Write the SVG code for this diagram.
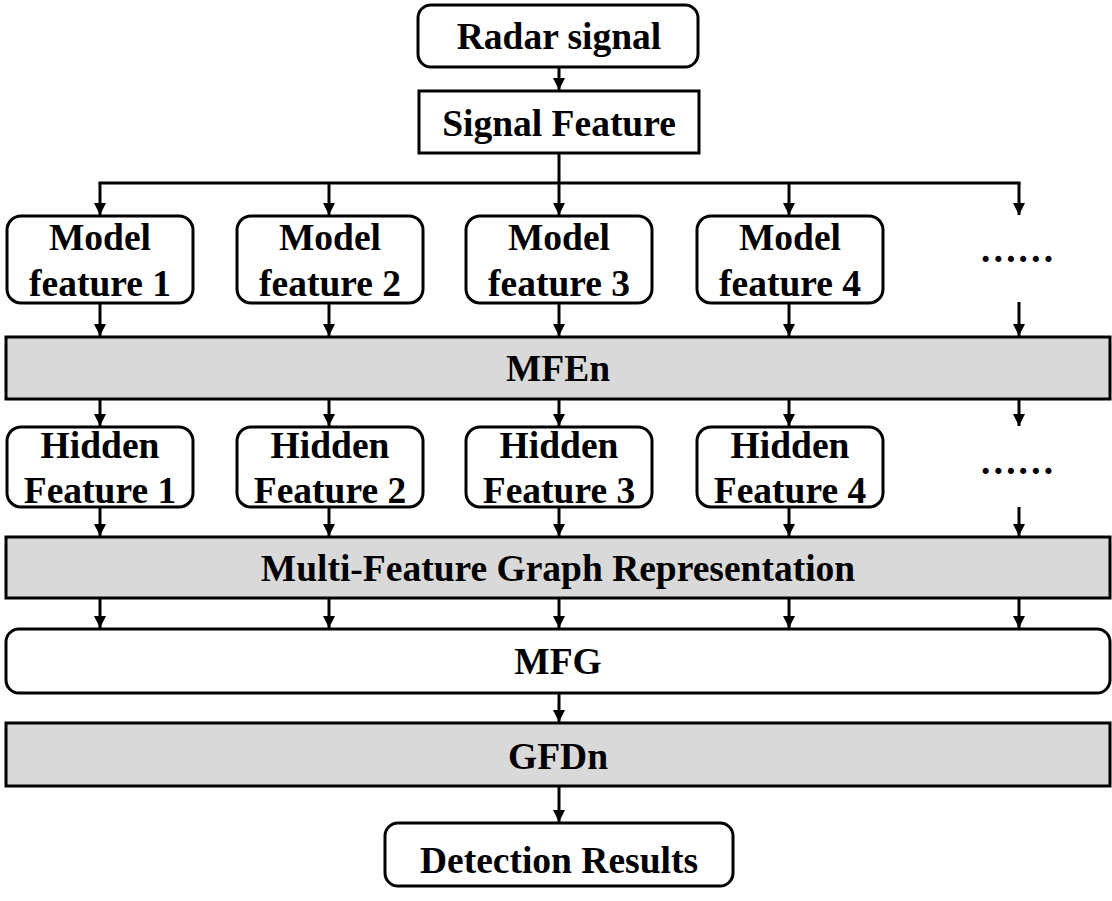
<svg xmlns="http://www.w3.org/2000/svg" width="1112" height="901" viewBox="0 0 1112 901">
<defs>
<marker id="ah" markerUnits="userSpaceOnUse" markerWidth="13" markerHeight="12" refX="12" refY="6" orient="auto">
<path d="M0,0 L12,6 L0,12 z" fill="#000"/>
</marker>
<style>
.box{fill:#fff;stroke:#000;stroke-width:3}
.gray{fill:#d9d9d9;stroke:#000;stroke-width:3}
.t{font-family:"Liberation Serif","Times New Roman",serif;font-weight:bold;font-size:37.5px;text-anchor:middle;fill:#000}
.c{stroke:#000;stroke-width:3;fill:none}
.a{stroke:#000;stroke-width:3;fill:none;marker-end:url(#ah)}
</style>
</defs>
<g id="connectors">
<line class="a" x1="559" y1="67" x2="559" y2="90"/>
<line class="c" x1="559" y1="153" x2="559" y2="183"/>
<line class="c" x1="98.5" y1="183" x2="1020.5" y2="183"/>
<line class="a" x1="100" y1="183" x2="100" y2="215"/>
<line class="a" x1="329" y1="183" x2="329" y2="215"/>
<line class="a" x1="559" y1="183" x2="559" y2="215"/>
<line class="a" x1="789" y1="183" x2="789" y2="215"/>
<line class="a" x1="1019" y1="183" x2="1019" y2="215"/>
<line class="a" x1="100" y1="303" x2="100" y2="336"/>
<line class="a" x1="329" y1="303" x2="329" y2="336"/>
<line class="a" x1="559" y1="303" x2="559" y2="336"/>
<line class="a" x1="789" y1="303" x2="789" y2="336"/>
<line class="a" x1="1019" y1="302" x2="1019" y2="336"/>
<line class="a" x1="100" y1="399" x2="100" y2="426"/>
<line class="a" x1="329" y1="399" x2="329" y2="426"/>
<line class="a" x1="559" y1="399" x2="559" y2="426"/>
<line class="a" x1="789" y1="399" x2="789" y2="426"/>
<line class="a" x1="1019" y1="399" x2="1019" y2="426"/>
<line class="a" x1="100" y1="507" x2="100" y2="536"/>
<line class="a" x1="329" y1="507" x2="329" y2="536"/>
<line class="a" x1="559" y1="507" x2="559" y2="536"/>
<line class="a" x1="789" y1="507" x2="789" y2="536"/>
<line class="a" x1="1019" y1="507" x2="1019" y2="536"/>
<line class="a" x1="100" y1="598" x2="100" y2="628"/>
<line class="a" x1="329" y1="598" x2="329" y2="628"/>
<line class="a" x1="559" y1="598" x2="559" y2="628"/>
<line class="a" x1="789" y1="598" x2="789" y2="628"/>
<line class="a" x1="1019" y1="598" x2="1019" y2="628"/>
<line class="a" x1="559" y1="693" x2="559" y2="722"/>
<line class="a" x1="559" y1="786" x2="559" y2="822"/>
</g>
<g id="radar">
<rect class="box" x="418" y="5" width="280" height="62" rx="13"/>
<text class="t" x="559" y="49">Radar signal</text>
</g>
<g id="signal-feature">
<rect class="box" x="419" y="91" width="280" height="62"/>
<text class="t" x="559" y="136">Signal Feature</text>
</g>
<g id="model1">
<rect class="box" x="7" y="216" width="186" height="87" rx="14"/>
<text class="t" x="100" y="250">Model</text>
<text class="t" x="100" y="296">feature 1</text>
</g>
<g id="model2">
<rect class="box" x="237" y="216" width="186" height="87" rx="14"/>
<text class="t" x="330" y="250">Model</text>
<text class="t" x="330" y="296">feature 2</text>
</g>
<g id="model3">
<rect class="box" x="466" y="216" width="186" height="87" rx="14"/>
<text class="t" x="559" y="250">Model</text>
<text class="t" x="559" y="296">feature 3</text>
</g>
<g id="model4">
<rect class="box" x="697" y="216" width="186" height="87" rx="14"/>
<text class="t" x="790" y="250">Model</text>
<text class="t" x="790" y="296">feature 4</text>
</g>
<g id="dots1">
<text class="t" x="1017" y="262">……</text>
</g>
<g id="mfen">
<rect class="gray" x="6" y="337" width="1104" height="62"/>
<text class="t" x="558" y="381">MFEn</text>
</g>
<g id="hidden1">
<rect class="box" x="7" y="427" width="186" height="80" rx="14"/>
<text class="t" x="100" y="458">Hidden</text>
<text class="t" x="100" y="503">Feature 1</text>
</g>
<g id="hidden2">
<rect class="box" x="237" y="427" width="186" height="80" rx="14"/>
<text class="t" x="330" y="458">Hidden</text>
<text class="t" x="330" y="503">Feature 2</text>
</g>
<g id="hidden3">
<rect class="box" x="466" y="427" width="186" height="80" rx="14"/>
<text class="t" x="559" y="458">Hidden</text>
<text class="t" x="559" y="503">Feature 3</text>
</g>
<g id="hidden4">
<rect class="box" x="697" y="427" width="186" height="80" rx="14"/>
<text class="t" x="790" y="458">Hidden</text>
<text class="t" x="790" y="503">Feature 4</text>
</g>
<g id="dots2">
<text class="t" x="1017" y="474">……</text>
</g>
<g id="mfgr">
<rect class="gray" x="6" y="537" width="1104" height="61"/>
<text class="t" x="558" y="581">Multi-Feature Graph Representation</text>
</g>
<g id="mfg">
<rect class="box" x="6" y="629" width="1104" height="64" rx="13"/>
<text class="t" x="558" y="674">MFG</text>
</g>
<g id="gfdn">
<rect class="gray" x="6" y="723" width="1104" height="63"/>
<text class="t" x="558" y="769">GFDn</text>
</g>
<g id="detection">
<rect class="box" x="385" y="823" width="348" height="63" rx="13"/>
<text class="t" x="559" y="873">Detection Results</text>
</g>
</svg>
